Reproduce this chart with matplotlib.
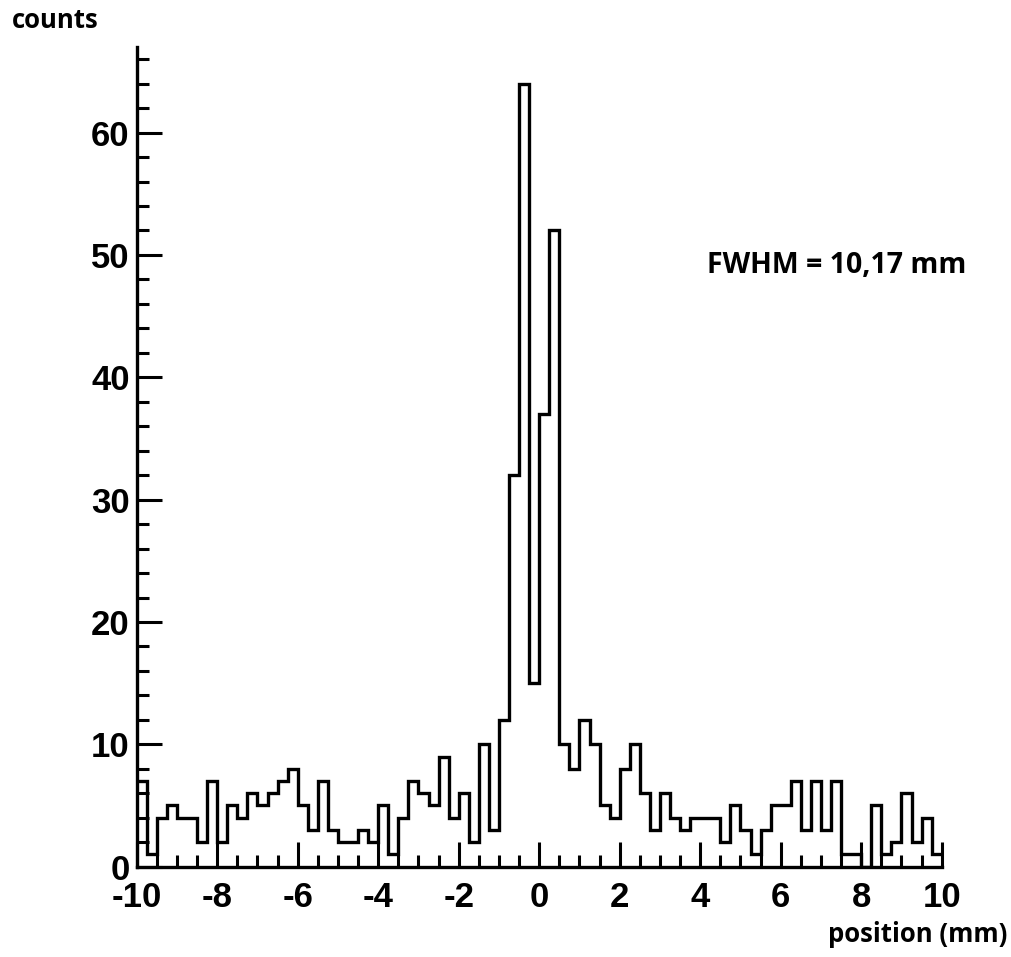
import numpy as np
import matplotlib
matplotlib.use("Agg")
from matplotlib import pyplot as plt
from matplotlib.ticker import MultipleLocator

# histogram contents, 80 bins of 0.25 mm from -10 to 10 mm
counts = [7, 1, 4, 5, 4, 4, 2, 7, 2, 5,
          4, 6, 5, 6, 7, 8, 5, 3, 7, 3,
          2, 2, 3, 2, 5, 1, 4, 7, 6, 5,
          9, 4, 6, 2, 10, 3, 12, 32, 64, 15,
          37, 52, 10, 8, 12, 10, 5, 4, 8, 10,
          6, 3, 6, 4, 3, 4, 4, 4, 2, 5,
          3, 1, 3, 5, 5, 7, 3, 7, 3, 7,
          1, 1, 0, 5, 1, 2, 6, 2, 4, 1]
x_min, x_max = -10, 10
fwhm_text = "FWHM = 10,17 mm"

plt.rcParams["axes.unicode_minus"] = False

edges = np.linspace(x_min, x_max, len(counts) + 1)

fig = plt.figure(figsize=(10.11, 9.57), dpi=100)
ax = fig.add_axes([0.1352, 0.0944, 0.7963, 0.8565])

ax.stairs(counts, edges, baseline=None, color="black", lw=2.4)

ax.set_xlim(x_min, x_max)
ax.set_ylim(0, 67)

for s in ["top", "right"]:
    ax.spines[s].set_visible(False)
for s in ["left", "bottom"]:
    ax.spines[s].set_linewidth(2.4)

ax.xaxis.set_major_locator(MultipleLocator(2))
ax.xaxis.set_minor_locator(MultipleLocator(0.5))
ax.yaxis.set_major_locator(MultipleLocator(10))
ax.yaxis.set_minor_locator(MultipleLocator(2))
ax.tick_params(which="major", direction="in", length=18, width=2.2, pad=5)
ax.tick_params(which="minor", direction="in", length=8.6, width=2.2)
ax.tick_params(axis="x", which="major", pad=10)

for lab in ax.get_xticklabels() + ax.get_yticklabels():
    lab.set_fontfamily("Liberation Sans")
    lab.set_fontweight("bold")
    lab.set_fontsize(25)

fig.text(12 / 1011, 1 - 20 / 957, "counts", fontsize=18.5, fontweight="bold",
         family="Open Sans", ha="left", va="center")
fig.text(707 / 1011, 1 - 265 / 957, fwhm_text, fontsize=20.5, fontweight="bold",
         family="Open Sans", ha="left", va="center")
fig.text(1007 / 1011, 1 - 935 / 957, "position (mm)", fontsize=18.5,
         fontweight="bold", family="Open Sans", ha="right", va="center")

fig.savefig("out.png", dpi=100, facecolor="white")
